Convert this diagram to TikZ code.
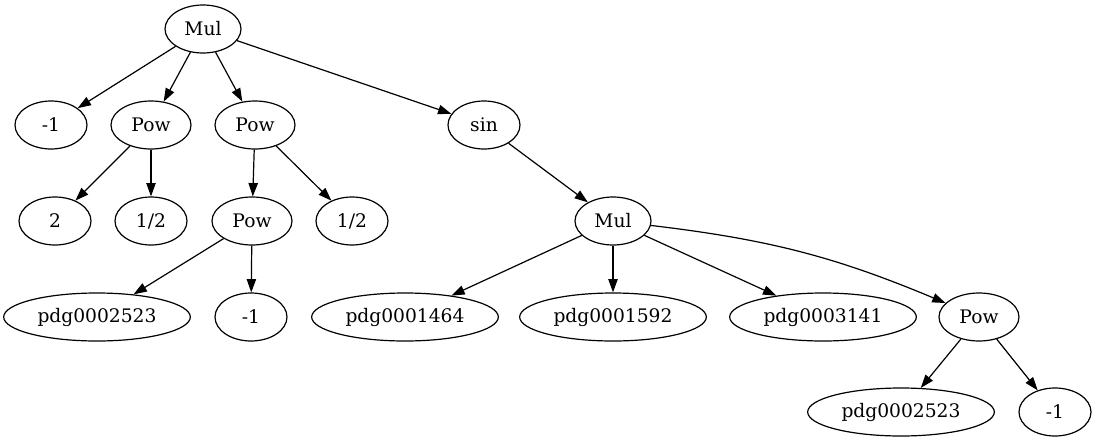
\documentclass[tikz,border=0pt]{standalone}
\usepackage{fontspec}
\setmainfont{DejaVu Serif}
\usetikzlibrary{shapes.geometric, arrows.meta}
\tikzstyle{base} = [ellipse, draw=black, line width=0.9pt, inner sep=0pt, minimum height=36pt, text centered, font=\fontsize{14}{16}\selectfont]
\tikzstyle{num} = [base, minimum width=54pt]
\tikzstyle{op} = [base, minimum width=60pt]
\tikzstyle{mulop} = [base, minimum width=57pt]
\tikzstyle{sym} = [base, minimum width=140pt]
\tikzstyle{arrow} = [line width=0.9pt,-{Triangle[length=10pt,width=7pt]}]

\begin{document}
\begin{tikzpicture}[x=0.75pt, y=-0.75pt]
\useasboundingbox (0,0) rectangle (1097,443);

\node (mul) [mulop] at (203,29) {Mul};
\node (m1) [num] at (51,125) {-1};
\node (pow1) [op] at (151,125) {Pow};
\node (pow2) [op] at (255,125) {Pow};
\node (sin) [num] at (484,125) {sin};
\node (two) [num] at (55,221) {2};
\node (half1) [num] at (151,221) {1/2};
\node (pow3) [op] at (252,221) {Pow};
\node (half2) [num] at (352,221) {1/2};
\node (mul2) [mulop] at (613,221) {Mul};
\node (pdg1) [sym] at (97,317) {pdg0002523};
\node (m2) [num] at (251,317) {-1};
\node (pdg2) [sym] at (405,317) {pdg0001464};
\node (pdg3) [sym] at (613,317) {pdg0001592};
\node (pdg4) [sym] at (823,317) {pdg0003141};
\node (pow4) [op] at (979,317) {Pow};
\node (pdg5) [sym] at (901,412) {pdg0002523};
\node (m3) [num] at (1055,412) {-1};

\draw [arrow] (mul) -- (m1);
\draw [arrow] (mul) -- (pow1);
\draw [arrow] (mul) -- (pow2);
\draw [arrow] (mul) -- (sin);
\draw [arrow] (pow1) -- (two);
\draw [arrow] (pow1) -- (half1);
\draw [arrow] (pow2) -- (pow3);
\draw [arrow] (pow2) -- (half2);
\draw [arrow] (sin) -- (mul2);
\draw [arrow] (pow3) -- (pdg1);
\draw [arrow] (pow3) -- (m2);
\draw [arrow] (mul2) -- (pdg2);
\draw [arrow] (mul2) -- (pdg3);
\draw [arrow] (mul2) -- (pdg4);
\draw [arrow] (mul2) to[bend left=8] (pow4);
\draw [arrow] (pow4) -- (pdg5);
\draw [arrow] (pow4) -- (m3);

\end{tikzpicture}
\end{document}
